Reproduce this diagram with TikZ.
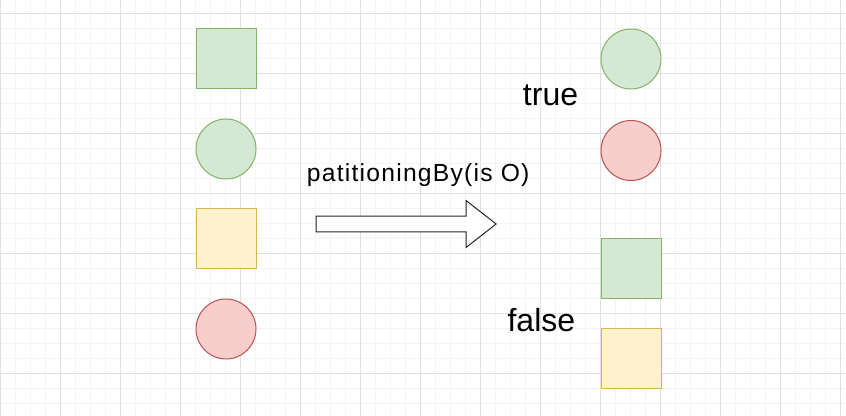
\documentclass[tikz,border=0pt]{standalone}
\usepackage{fontspec}
\setmainfont{Liberation Sans}
\newfontfamily\spacedfont[LetterSpace=5]{Liberation Sans}
\usetikzlibrary{positioning,shapes.arrows}
\definecolor{greenfill}{HTML}{D5E8D4}
\definecolor{greenline}{HTML}{82B366}
\definecolor{yellowfill}{HTML}{FFF2CC}
\definecolor{yellowline}{HTML}{D6B656}
\definecolor{redfill}{HTML}{F8CECC}
\definecolor{redline}{HTML}{B85450}
\definecolor{minorgrid}{HTML}{F4F4F4}
\definecolor{majorgrid}{HTML}{E0E0E0}
\tikzset{
    on grid,
    node distance=67.5pt,
    box/.style = {
        draw,
        shape=rectangle,
        minimum size=45pt,
        inner sep=0pt,
        line width=0.75pt
    },
    ball/.style = {
        draw,
        shape=circle,
        minimum size=45pt,
        inner sep=0pt,
        line width=0.75pt
    },
    greenbox/.style = {box, fill=greenfill, draw=greenline},
    yellowbox/.style = {box, fill=yellowfill, draw=yellowline},
    greenball/.style = {ball, fill=greenfill, draw=greenline},
    redball/.style = {ball, fill=redfill, draw=redline},
    bigarrow/.style = {
        draw=black!85,
        shape=single arrow,
        minimum height=135pt,
        minimum width=34.5pt,
        single arrow head extend=11.6pt,
        single arrow tip angle=76,
        single arrow head indent=0pt,
        inner xsep=0pt,
        inner ysep=5.6pt,
        line width=0.75pt,
        fill=white
    },
    bigtext/.style = {
        anchor=base west,
        inner sep=0pt,
        font=\fontsize{24pt}{28pt}\selectfont
    },
    caption/.style = {
        anchor=base west,
        inner sep=0pt,
        font=\spacedfont\fontsize{18.5pt}{22pt}\selectfont
    },
}

\begin{document}
\begin{tikzpicture}[x=0.75pt, y=-0.75pt]
            \useasboundingbox (0,0) rectangle (846,416);

            % background grid
            \foreach \gx in {0,15,...,840} \draw[minorgrid, line width=0.75pt] (\gx,0) -- (\gx,416);
            \foreach \gy in {-1,14,...,416} \draw[minorgrid, line width=0.75pt] (0,\gy) -- (846,\gy);
            \foreach \gx in {0,60,...,840} \draw[majorgrid, line width=0.75pt] (\gx,0) -- (\gx,416);
            \foreach \gy in {14,74,...,416} \draw[majorgrid, line width=0.75pt] (0,\gy) -- (846,\gy);

            % input stream
            \node[greenbox] (greensq) at (226,59) {};
            \node[greenball, below=of greensq] (greencirc) {};
            \node[yellowbox, below=of greencirc] (yellowsq) {};
            \node[redball, below=of yellowsq] (redcirc) {};

            \node[bigarrow] (partarrow) at (401,224) {};
            \node[caption] (partlabel) at (306.7,181.7) {patitioningBy(is O)};

            % true partition
            \node[greenball] (truegreen) at (631,59) {};
            \node[redball] (truered) at (631,150.5) {};
            \node[bigtext] (truelabel) at (522.7,106) {true};

            % false partition
            \node[greenbox] (falsegreen) at (631,269) {};
            \node[yellowbox, below=of falsegreen] (falseyellow) {};
            \node[bigtext] (falselabel) at (507.3,331.7) {false};

        \end{tikzpicture}
\end{document}
